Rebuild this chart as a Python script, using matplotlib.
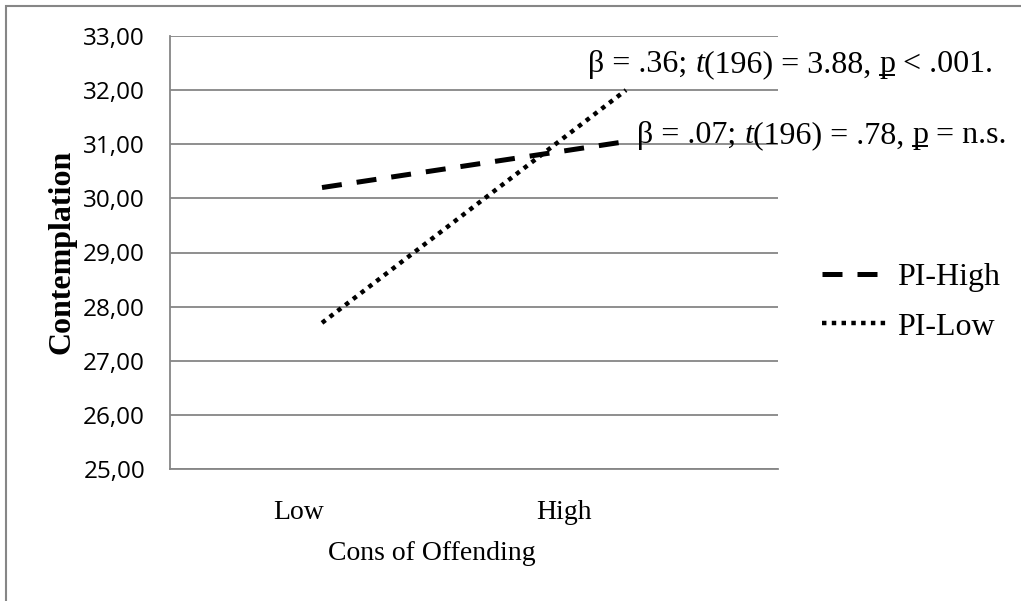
import matplotlib
matplotlib.use("Agg")
import matplotlib.pyplot as plt
from matplotlib.patches import Rectangle
from matplotlib.lines import Line2D
from matplotlib.transforms import ScaledTranslation

# ---- data ----
categories = ["Low", "High"]
pi_high = [30.20, 31.05]
pi_low = [27.70, 32.00]
series_labels = ["PI-High", "PI-Low"]
y_ticks = [25, 26, 27, 28, 29, 30, 31, 32, 33]

# annotation pieces: (text, italic, underline)
note_low = [("\u03b2 = .36; ", False, False), ("t", True, False),
            ("(196) = 3.88, ", False, False), ("p", False, True),
            (" < .001.", False, False)]
note_high = [("\u03b2 = .07; ", False, False), ("t", True, False),
             ("(196) = .78, ", False, False), ("p", False, True),
             (" = n.s.", False, False)]

SERIF = "Liberation Serif"
SANS = "Open Sans"
GRID = "#868686"

fig = plt.figure(figsize=(10.21, 6.01), dpi=100)
ax = fig.add_axes([170 / 1021, 1 - 469 / 601, 608 / 1021, 433 / 601])

x = list(range(len(categories)))
ln_hi, = ax.plot(x, pi_high, color="black", lw=3.6,
                 linestyle=(0, (4.0, 3.0)), solid_capstyle="butt",
                 label=series_labels[0], zorder=3)
ln_lo, = ax.plot(x, pi_low, color="black", lw=3.2,
                 linestyle=(0, (1, 1.2)), label=series_labels[1], zorder=3)

ax.set_xlim(-0.5, len(categories) - 0.5)
ax.set_ylim(y_ticks[0], y_ticks[-1])
ax.set_yticks(y_ticks)
ax.set_yticklabels([f"{v:.2f}".replace(".", ",") for v in y_ticks],
                   fontsize=17.5, family=SANS)
ax.set_xticks(x)
ax.set_xticklabels(categories, fontsize=20, family=SERIF)
ax.tick_params(axis="both", length=0)
ax.tick_params(axis="y", pad=18)
ax.tick_params(axis="x", pad=22)

# category labels sit left of their category centre
for lbl, dx in zip(ax.get_xticklabels(), [-23, -62]):
    lbl.set_transform(lbl.get_transform() +
                      ScaledTranslation(dx / 100, 0, fig.dpi_scale_trans))

ax.grid(axis="y", color=GRID, lw=1.3)
ax.set_axisbelow(True)
for side in ["left", "bottom"]:
    ax.spines[side].set_color(GRID)
    ax.spines[side].set_linewidth(1.3)
for side in ["top", "right"]:
    ax.spines[side].set_visible(False)

ax.set_xlabel("Cons of Offending", fontsize=20, family=SERIF)
ax.xaxis.set_label_coords((432 - 170) / 608, -(541 - 469) / 433)
ax.set_ylabel("Contemplation", fontsize=23, family=SERIF, fontweight="bold")
ax.yaxis.set_label_coords((77 - 170) / 608, (469 - 252) / 433)

ax.legend(handles=[ln_hi, ln_lo], loc="upper left",
          bbox_to_anchor=(822 / 1021, 1 - 263 / 601),
          bbox_transform=fig.transFigure, frameon=False,
          prop={"family": SERIF, "size": 23}, handlelength=2.0,
          handletextpad=0.35, labelspacing=0.62, borderpad=0,
          borderaxespad=0)

# outer chart border (top and left edges visible)
fig.patches.append(Rectangle((6 / 1021, -0.1), 1.2, 1.1 - 6 / 601,
                             transform=fig.transFigure, fill=False,
                             edgecolor=GRID, lw=1.5))


def rich_text(x0, y0, pieces, size=23):
    """Draw a line of text from styled pieces; return underlined pieces."""
    prev = None
    under = []
    for text, italic, underline in pieces:
        style = "italic" if italic else "normal"
        if prev is None:
            t = ax.text(x0, y0, text, fontsize=size, family=SERIF,
                        style=style, va="baseline", ha="left", zorder=4)
        else:
            t = ax.annotate(text, xy=(1, 0), xycoords=prev, va="bottom",
                            ha="left", fontsize=size, family=SERIF,
                            style=style, zorder=4)
        if underline:
            under.append(t)
        prev = t
    return under


underlined = []
underlined += rich_text(0.875, 32.34, note_low)
underlined += rich_text(1.036, 31.02, note_high)

fig.canvas.draw()
renderer = fig.canvas.get_renderer()
inv = fig.transFigure.inverted()
for t in underlined:
    bb = t.get_window_extent(renderer)
    yline = bb.y0 + 4
    (fx0, fy), (fx1, _) = inv.transform([(bb.x0 + 1, yline), (bb.x1 - 1, yline)])
    fig.add_artist(Line2D([fx0, fx1], [fy, fy], transform=fig.transFigure,
                          color="black", lw=1.4))

fig.savefig("out.png", dpi=100, facecolor="white")
